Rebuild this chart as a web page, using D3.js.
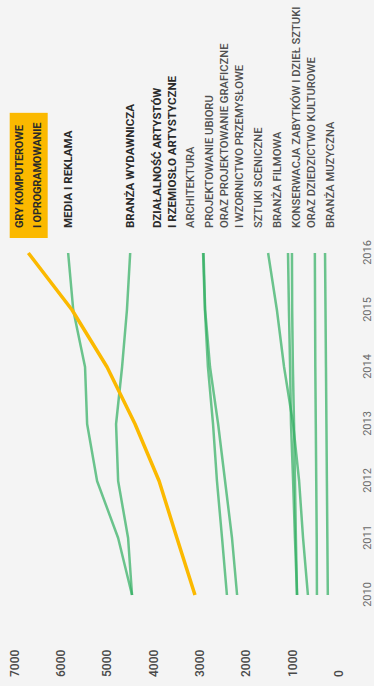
<!DOCTYPE html>
<html>
<head>
<meta charset="utf-8">
<script src="https://cdn.jsdelivr.net/npm/d3@7"></script>
<style>
  html, body { margin: 0; padding: 0; background: #f4f4f4; overflow: hidden; }
</style>
</head>
<body>
<div id="chart"></div>
<script>
// Data (values per year, 2010-2016).
const years = [2010, 2011, 2012, 2013, 2014, 2015, 2016];
const valueTicks = [0, 1000, 2000, 3000, 4000, 5000, 6000, 7000];

const gryValues = [3090, 3480, 3865, 4385, 4990, 5745, 6690];
const mediaValues = [4450, 4750, 5205, 5420, 5465, 5720, 5830];
const wydawniczaValues = [4450, 4535, 4750, 4795, 4665, 4560, 4490];
const artystowValues = [2400, 2505, 2615, 2700, 2810, 2875, 2915];
const architekturaValues = [2180, 2290, 2440, 2590, 2765, 2870, 2905];
const projektowanieValues = [650, 755, 840, 970, 1165, 1320, 1510];
const scenicznaValues = [885, 930, 970, 1015, 1035, 1060, 1080];
const filmowaValues = [885, 910, 930, 950, 975, 990, 995];
const konserwacjaValues = [455, 460, 470, 480, 490, 495, 500];
const muzycznaValues = [220, 230, 240, 250, 260, 270, 280];

const seriesLabels = [
  ['GRY KOMPUTEROWE', 'I OPROGRAMOWANIE'],
  ['MEDIA I REKLAMA'],
  ['BRANŻA WYDAWNICZA'],
  ['DZIAŁALNOŚĆ ARTYSTÓW', 'I RZEMIOSŁO ARTYSTYCZNE'],
  ['ARCHITEKTURA'],
  ['PROJEKTOWANIE UBIORU', 'ORAZ PROJEKTOWANIE GRAFICZNE', 'I WZORNICTWO PRZEMYSŁOWE'],
  ['SZTUKI SCENICZNE'],
  ['BRANŻA FILMOWA'],
  ['KONSERWACJA ZABYTKÓW I DZIEŁ SZTUKI', 'ORAZ DZIEDZICTWO KULTUROWE'],
  ['BRANŻA MUZYCZNA']
];

const seriesValues = [
  gryValues, mediaValues, wydawniczaValues, artystowValues, architekturaValues,
  projektowanieValues, scenicznaValues, filmowaValues, konserwacjaValues, muzycznaValues
];

const attrs = {
  svgWidth: 374,
  svgHeight: 686,
  background: '#f4f4f4',
  highlight: '#fbb900',
  green: '#2fae60',
  font: 'Roboto, "DejaVu Sans", sans-serif',
  lineStep: 15,
  labelGap: 19
};

const x = d3.scaleLinear().domain([2010, 2016]).range([91, 433]);
const y = d3.scaleLinear().domain([0, 7000]).range([338, 14]);

const svg = d3.select('#chart').append('svg')
  .attr('width', attrs.svgWidth)
  .attr('height', attrs.svgHeight)
  .style('display', 'block');

svg.append('rect')
  .attr('width', attrs.svgWidth)
  .attr('height', attrs.svgHeight)
  .attr('fill', attrs.background);

// The chart is drawn upright in a frame and the frame is turned a quarter left.
const frame = svg.append('g')
  .attr('transform', 'translate(0,' + attrs.svgHeight + ') rotate(-90)')
  .style('font-family', attrs.font);

// Value axis (labels only).
frame.append('g')
  .attr('class', 'y-axis')
  .call(d3.axisLeft(y).tickValues(valueTicks).tickSize(0).tickFormat(d3.format('d')))
  .call(g => g.select('.domain').remove())
  .call(g => g.selectAll('text')
    .attr('x', 9)
    .attr('dy', '0.36em')
    .attr('text-anchor', 'start')
    .attr('fill', '#4a4a4a')
    .style('font-size', '12px')
    .style('font-weight', 500)
    .style('font-family', attrs.font));

// Year axis (labels only).
frame.append('g')
  .attr('class', 'x-axis')
  .attr('transform', 'translate(0,' + 363 + ')')
  .call(d3.axisBottom(x).tickValues(years).tickSize(0).tickFormat(d3.format('d')))
  .call(g => g.select('.domain').remove())
  .call(g => g.selectAll('text')
    .attr('y', 0)
    .attr('dy', '0.71em')
    .attr('fill', '#6a6a6a')
    .style('font-size', '11px')
    .style('font-family', attrs.font));

const line = d3.line()
  .x((d, i) => x(years[i]))
  .y(d => y(d));

const series = seriesValues.map((vals, i) => ({ i, vals, label: seriesLabels[i] }));

// Green lines first, highlighted series on top.
frame.selectAll('.line-path')
  .data(series.slice(1))
  .join('path')
  .attr('class', 'line-path')
  .attr('d', d => line(d.vals))
  .attr('fill', 'none')
  .attr('stroke', attrs.green)
  .attr('stroke-opacity', 0.7)
  .attr('stroke-width', 2.5)
  .attr('stroke-linejoin', 'round');

frame.append('path')
  .attr('d', line(series[0].vals))
  .attr('fill', 'none')
  .attr('stroke', attrs.highlight)
  .attr('stroke-width', 3.5)
  .attr('stroke-linejoin', 'round');

// Label layout: keep each label near its line end, push overlapping ones apart.
const items = series.map(s => {
  const step = s.i === 0 ? 18 : attrs.lineStep;
  return {
    s,
    step,
    target: y(s.vals[s.vals.length - 1]),
    size: (s.label.length - 1) * step + attrs.labelGap
  };
}).sort((a, b) => a.target - b.target);

const minY = 0;
const maxY = y(0) + 2;
const clusters = [];

function place(c) {
  let acc = 0, sum = 0;
  c.items.forEach(it => {
    it.off = acc + it.size / 2;
    acc += it.size;
    sum += it.target - it.off;
  });
  c.size = acc;
  c.top = Math.max(minY, Math.min(maxY - acc, sum / c.items.length));
}

items.forEach(it => {
  const c = { items: [it] };
  place(c);
  clusters.push(c);
  while (clusters.length > 1) {
    const b = clusters[clusters.length - 1];
    const a = clusters[clusters.length - 2];
    if (a.top + a.size <= b.top) break;
    clusters.pop();
    a.items = a.items.concat(b.items);
    place(a);
  }
});
clusters.forEach(c => c.items.forEach(it => { it.center = c.top + it.off; }));

const labelX = 458;

const labelGroups = frame.selectAll('.label')
  .data(items)
  .join('g')
  .attr('class', 'label');

labelGroups.selectAll('text')
  .data(it => it.s.label.map((t, k) => ({ t, k, it })))
  .join('text')
  .attr('x', labelX)
  .attr('y', d => d.it.center - (d.it.s.label.length - 1) * d.it.step / 2 + d.k * d.it.step)
  .attr('dy', '0.35em')
  .attr('fill', d => d.it.s.i <= 3 ? '#2a2a2a' : '#505050')
  .style('font-size', d => d.it.s.i === 0 ? '11px' : (d.it.s.i <= 3 ? '11.5px' : '11.2px'))
  .style('letter-spacing', d => d.it.s.i === 0 ? '-0.2px' : null)
  .style('font-weight', d => d.it.s.i <= 3 ? 700 : 500)
  .text(d => d.t);

// Highlight box behind the first series label.
const hlGroup = labelGroups.filter(it => it.s.i === 0);
const bb = hlGroup.node().getBBox();
hlGroup.insert('rect', 'text')
  .attr('x', bb.x - 10)
  .attr('y', bb.y - 3.5)
  .attr('width', bb.width + 20)
  .attr('height', bb.height + 7)
  .attr('fill', attrs.highlight);
</script>
</body>
</html>
